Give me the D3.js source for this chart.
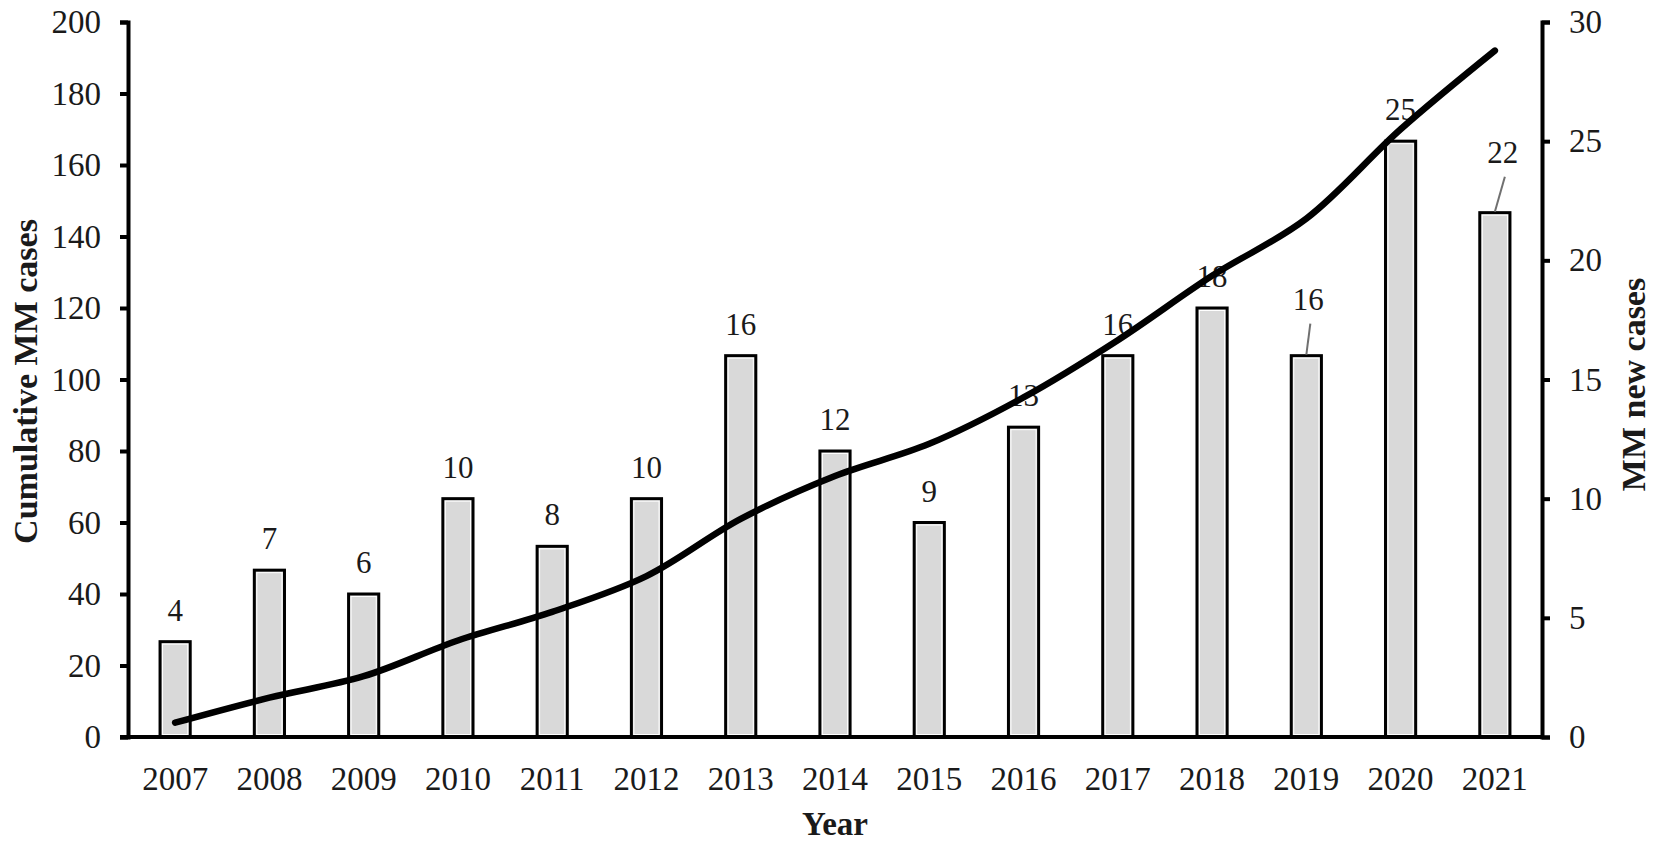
<!DOCTYPE html>
<html>
<head>
<meta charset="utf-8">
<script src="https://cdn.jsdelivr.net/npm/d3@7"></script>
<style>
  body { margin: 0; background: #fff; }
  text { font-family: "Liberation Serif", "Times New Roman", serif; fill: #1a1a1a; }
</style>
</head>
<body>
<div id="chart"></div>
<script>
const years = ["2007", "2008", "2009", "2010", "2011", "2012", "2013", "2014", "2015", "2016", "2017", "2018", "2019", "2020", "2021"];
const newCases = [4, 7, 6, 10, 8, 10, 16, 12, 9, 13, 16, 18, 16, 25, 22];
const cumulativeCases = [4, 11, 17, 27, 35, 45, 61, 73, 82, 95, 111, 129, 145, 170, 192];
const leftTicks = [0, 20, 40, 60, 80, 100, 120, 140, 160, 180, 200];
const rightTicks = [0, 5, 10, 15, 20, 25, 30];

// labels pulled away from their bar, with a leader line
const leaderLabels = {
    "2019": { dx: 2, dy: -46 },
    "2021": { dx: 8, dy: -50 }
};

const W = 1654, H = 844;
const margin = { top: 22, right: 112, bottom: 107, left: 128 };
const width = W - margin.left - margin.right,
    height = H - margin.top - margin.bottom;

const svg = d3.select("#chart").append("svg")
    .attr("width", W)
    .attr("height", H)
    .append("g")
    .attr("transform", `translate(${margin.left},${margin.top})`);

const x = d3.scaleBand().domain(years).range([0, width]).paddingInner(0.68).paddingOuter(0.34);
const yLeft = d3.scaleLinear().domain([0, 200]).range([height, 0]);
const yRight = d3.scaleLinear().domain([0, 30]).range([height, 0]);

const fontsize = 33, titleSize = 34;

/* bars */
const bars = svg.append("g").attr("class", "bars");
bars.selectAll("rect.bar")
    .data(years)
    .enter().append("rect")
    .attr("class", "bar")
    .attr("x", d => x(d))
    .attr("y", (d, i) => yRight(newCases[i]))
    .attr("width", x.bandwidth())
    .attr("height", (d, i) => height - yRight(newCases[i]))
    .attr("fill", "#d9d9d9")
    .attr("stroke", "#000")
    .attr("stroke-width", 3);

// thin white inner edge, like the source
bars.selectAll("rect.inner")
    .data(years)
    .enter().append("rect")
    .attr("class", "inner")
    .attr("x", d => x(d) + 2.5)
    .attr("y", (d, i) => yRight(newCases[i]) + 2.5)
    .attr("width", x.bandwidth() - 5)
    .attr("height", (d, i) => Math.max(0, height - yRight(newCases[i]) - 5))
    .attr("fill", "none")
    .attr("stroke", "#fff")
    .attr("stroke-width", 1);

/* bar labels */
const labels = svg.append("g").attr("class", "labels");
years.forEach((yr, i) => {
    const cx = x(yr) + x.bandwidth() / 2,
        top = yRight(newCases[i]);
    const off = leaderLabels[yr] || { dx: 0, dy: -21 };
    labels.append("text")
        .attr("x", cx + off.dx)
        .attr("y", top + off.dy)
        .attr("text-anchor", "middle")
        .attr("font-size", 31)
        .text(newCases[i]);
    if (leaderLabels[yr]) {
        labels.append("line")
            .attr("x1", cx + off.dx + 2)
            .attr("y1", top + off.dy + 14)
            .attr("x2", cx)
            .attr("y2", top - 1)
            .attr("stroke", "#707070")
            .attr("stroke-width", 2);
    }
});

/* cumulative line */
const line = d3.line()
    .x((d, i) => x(years[i]) + x.bandwidth() / 2)
    .y(d => yLeft(d))
    .curve(d3.curveCatmullRom.alpha(0.5));

svg.append("path")
    .datum(cumulativeCases)
    .attr("fill", "none")
    .attr("stroke", "#000")
    .attr("stroke-width", 6.5)
    .attr("stroke-linecap", "round")
    .attr("stroke-linejoin", "round")
    .attr("d", line);

/* axes */
const axisL = d3.axisLeft(yLeft).tickValues(leftTicks).tickSize(8).tickPadding(19);
const axisR = d3.axisRight(yRight).tickValues(rightTicks).tickSize(8).tickPadding(19);
const axisB = d3.axisBottom(x).tickSize(0).tickPadding(30);

function styleAxis(g) {
    g.select(".domain").attr("stroke", "#000").attr("stroke-width", 4);
    g.selectAll(".tick line").attr("stroke", "#000").attr("stroke-width", 4);
    g.selectAll(".tick text")
        .attr("font-family", "Liberation Serif, Times New Roman, serif")
        .attr("font-size", fontsize)
        .attr("fill", "#1a1a1a");
}

svg.append("g").attr("class", "axis_l")
    .call(axisL.tickSizeOuter(8))
    .call(styleAxis);

svg.append("g").attr("class", "axis_r")
    .attr("transform", `translate(${width},0)`)
    .call(axisR.tickSizeOuter(8))
    .call(styleAxis);

svg.append("g").attr("class", "axis_b")
    .attr("transform", `translate(0,${height})`)
    .call(axisB.tickSizeOuter(0))
    .call(styleAxis);

// x-axis runs under the left tick stub
svg.select(".axis_b .domain").attr("d", `M-8,0H${width}`);

/* axis titles */
svg.append("text")
    .attr("x", width / 2)
    .attr("y", height + 98)
    .attr("text-anchor", "middle")
    .attr("font-size", fontsize)
    .attr("font-weight", "bold")
    .text("Year");

svg.append("text")
    .attr("transform", `translate(${-margin.left + 37},${height / 2 + 2}) rotate(-90)`)
    .attr("text-anchor", "middle")
    .attr("font-size", titleSize)
    .attr("font-weight", "bold")
    .text("Cumulative MM cases");

svg.append("text")
    .attr("transform", `translate(${width + 103},${height / 2 + 5}) rotate(-90)`)
    .attr("text-anchor", "middle")
    .attr("font-size", titleSize)
    .attr("font-weight", "bold")
    .text("MM new cases");
</script>
</body>
</html>
